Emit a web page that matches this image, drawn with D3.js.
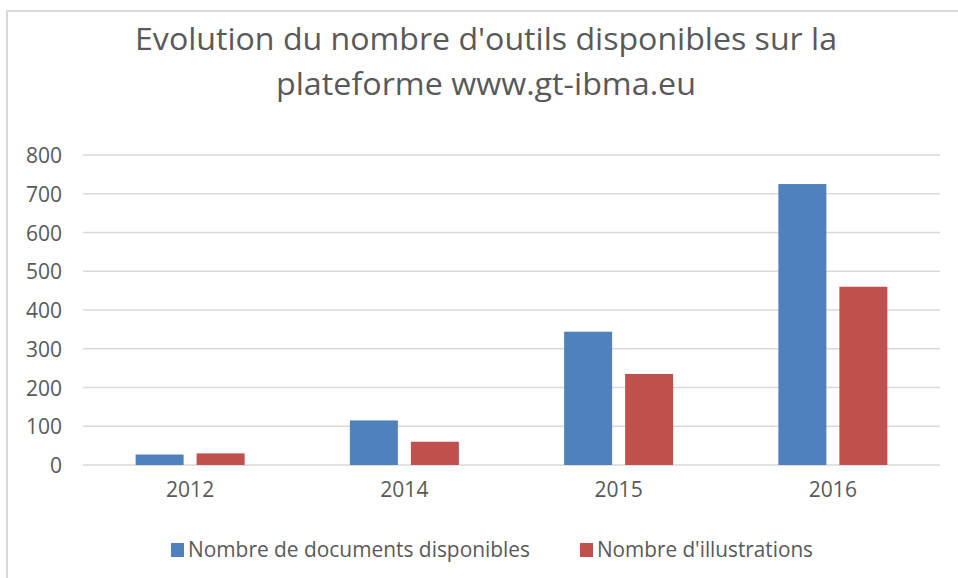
<!DOCTYPE html>
<html><head><meta charset="utf-8">
<script src="https://cdn.jsdelivr.net/npm/d3@7"></script>
<style>body{margin:0;background:#fff}svg{display:block}</style>
</head><body>
<svg id="c" width="958" height="578"></svg>
<script>
const categories = ["2012", "2014", "2015", "2016"];
const seriesNames = ["Nombre de documents disponibles", "Nombre d'illustrations"];
const documents = [27, 115, 344, 725];
const illustrations = [30, 60, 235, 460];
const yTicks = [0, 100, 200, 300, 400, 500, 600, 700, 800];
const titleLines = ["Evolution du nombre d'outils disponibles sur la", "plateforme www.gt-ibma.eu"];
const colors = ["#4f81bd", "#c0504d"];

const svg = d3.select("#c");
const font = "'Open Sans', sans-serif";
const textColor = "#595959";

// outer chart border
svg.append("rect").attr("x", 7).attr("y", 11).attr("width", 980).attr("height", 600)
  .attr("fill", "#fff").attr("stroke", "#d9d9d9").attr("stroke-width", 2);

// title
const titleY = [50, 95], titleW = [702, 420];
titleLines.forEach((t, i) => {
  svg.append("text").attr("x", 486).attr("y", titleY[i]).attr("text-anchor", "middle")
    .attr("font-family", font).attr("font-size", 31).attr("fill", textColor)
    .attr("textLength", titleW[i]).attr("lengthAdjust", "spacingAndGlyphs").text(t);
});

const x0 = d3.scaleBand().domain(categories).range([83, 940]).paddingInner(0).paddingOuter(0);
const bw = x0.bandwidth();
const x1 = d3.scaleBand().domain(seriesNames).range([(bw - 109) / 2, (bw + 109) / 2])
  .paddingInner(13 / 61).paddingOuter(0);
const y = d3.scaleLinear().domain([0, 800]).range([465, 155]);

// gridlines
svg.append("g").selectAll("line").data(yTicks).join("line")
  .attr("x1", 83).attr("x2", 940).attr("y1", d => y(d)).attr("y2", d => y(d))
  .attr("stroke", "#d9d9d9").attr("stroke-width", 1.5);

// y axis labels
const yAxis = svg.append("g").attr("transform", "translate(62,0)")
  .call(d3.axisLeft(y).tickValues(yTicks).tickSize(0).tickPadding(0));
yAxis.select(".domain").remove();
yAxis.selectAll("text").attr("font-family", font).attr("font-size", 21).attr("fill", textColor)
  .attr("dy", "0.36em");

// x axis labels
const xAxis = svg.append("g").attr("transform", "translate(0,482)")
  .call(d3.axisBottom(x0).tickSize(0).tickPadding(0));
xAxis.select(".domain").remove();
xAxis.selectAll("text").attr("font-family", font).attr("font-size", 21).attr("fill", textColor)
  .attr("dy", "0.71em");

// bars
const values = [documents, illustrations];
const rows = categories.map((c, i) => ({ cat: c, vals: seriesNames.map((s, k) => ({ s, k, v: values[k][i] })) }));
svg.append("g").selectAll("g").data(rows).join("g")
  .attr("transform", d => `translate(${x0(d.cat)},0)`)
  .selectAll("rect").data(d => d.vals).join("rect")
  .attr("x", d => x1(d.s)).attr("width", x1.bandwidth())
  .attr("y", d => y(d.v)).attr("height", d => y(0) - y(d.v))
  .attr("fill", d => colors[d.k]);

// legend
const legX = [171, 580], legW = [342, 216];
seriesNames.forEach((s, k) => {
  svg.append("rect").attr("x", legX[k]).attr("y", 543).attr("width", 13).attr("height", 14)
    .attr("fill", colors[k]);
  svg.append("text").attr("x", legX[k] + 17).attr("y", 557)
    .attr("font-family", font).attr("font-size", 21).attr("fill", textColor)
    .attr("textLength", legW[k]).attr("lengthAdjust", "spacingAndGlyphs").text(s);
});
</script>
</body></html>
